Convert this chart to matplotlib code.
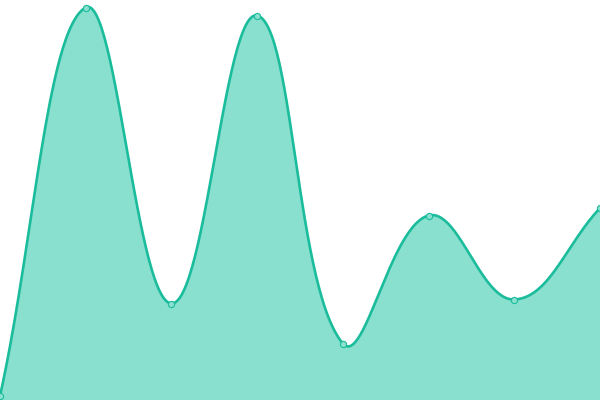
import numpy as np
import matplotlib
matplotlib.use("Agg")
import matplotlib.pyplot as plt

# data points (x positions are evenly spaced categories)
x_vals = [0, 85.7, 171.4, 257.1, 342.9, 428.6, 514.3, 600]
y_vals = [4, 392.5, 96.5, 384.5, 56.5, 184.5, 100.5, 192]

line_color = "#1abc9c"
fill_color = "#8ae0cf"
tension = 0.4


def control_points(px, py, t):
    # Chart.js style spline control points
    n = len(px)
    cp = []
    for i in range(n):
        x0, y0 = (px[i - 1], py[i - 1]) if i > 0 else (px[i], py[i])
        x1, y1 = px[i], py[i]
        x2, y2 = (px[i + 1], py[i + 1]) if i < n - 1 else (px[i], py[i])
        d01 = np.hypot(x1 - x0, y1 - y0)
        d12 = np.hypot(x2 - x1, y2 - y1)
        s = d01 + d12
        s01 = d01 / s if s else 0
        s12 = d12 / s if s else 0
        fa, fb = t * s01, t * s12
        prev_c = (x1 - fa * (x2 - x0), y1 - fa * (y2 - y0))
        next_c = (x1 + fb * (x2 - x0), y1 + fb * (y2 - y0))
        cp.append((prev_c, next_c))
    return cp


def bezier_curve(px, py, t, steps=60):
    cp = control_points(px, py, t)
    xs, ys = [], []
    u = np.linspace(0, 1, steps)
    for i in range(len(px) - 1):
        p0 = np.array([px[i], py[i]])
        p1 = np.array(cp[i][1])
        p2 = np.array(cp[i + 1][0])
        p3 = np.array([px[i + 1], py[i + 1]])
        seg = ((1 - u) ** 3)[:, None] * p0 + (3 * (1 - u) ** 2 * u)[:, None] * p1 \
            + (3 * (1 - u) * u ** 2)[:, None] * p2 + (u ** 3)[:, None] * p3
        xs.extend(seg[:, 0])
        ys.extend(seg[:, 1])
    return np.array(xs), np.array(ys)


cx, cy = bezier_curve(x_vals, y_vals, tension)

fig = plt.figure(figsize=(6, 4), dpi=100)
ax = fig.add_axes([0, 0, 1, 1])
ax.fill_between(cx, cy, 0, color=fill_color, linewidth=0)
ax.plot(cx, cy, color=line_color, linewidth=1.9, solid_capstyle="round")
ax.plot(x_vals, y_vals, "o", markersize=4.5, markerfacecolor=fill_color,
        markeredgecolor=line_color, markeredgewidth=0.8)
ax.set_xlim(0, 600)
ax.set_ylim(0, 400)
ax.axis("off")

fig.savefig("out.png", dpi=100)
